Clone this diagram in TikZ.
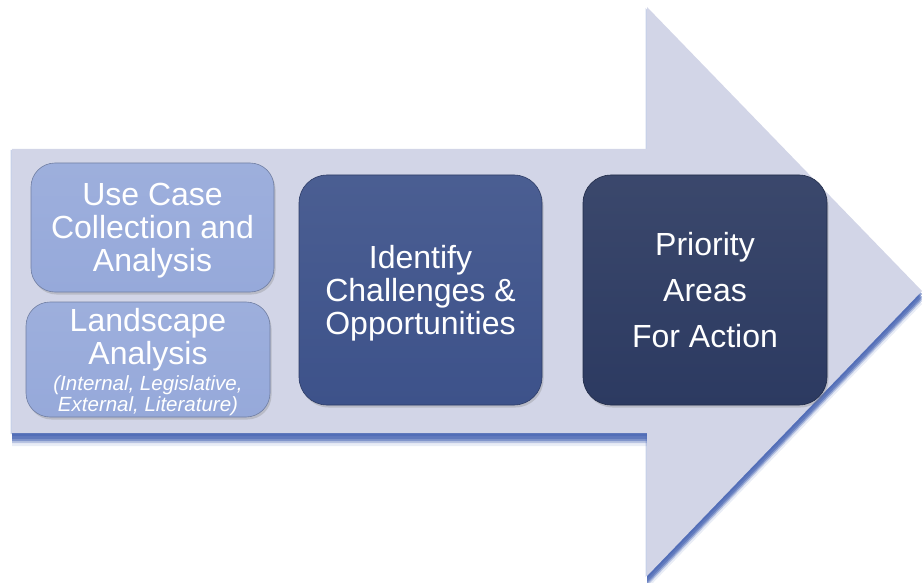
\documentclass[tikz,border=0pt]{standalone}
\usepackage{fontspec}
\setmainfont{Liberation Sans}
\usetikzlibrary{shadows}
\definecolor{arrowfill}{HTML}{D2D5E7}
\definecolor{arrowshadow}{HTML}{4A67B4}
\definecolor{lightbox}{HTML}{96A9DA}
\definecolor{midbox}{HTML}{3D528A}
\definecolor{darkbox}{HTML}{2C3A61}
\begin{document}
\begin{tikzpicture}[x=1pt,y=-1pt,
  stage/.style={rounded corners=28pt, draw=#1!75!black, line width=0.6pt,
    top color=#1!93!white, bottom color=#1, text=white, align=center,
    inner sep=0pt, font=\fontsize{32}{33}\selectfont,
    drop shadow={shadow xshift=1.5pt, shadow yshift=-2.5pt, opacity=0.3}},
  stagetext/.style={text=white, align=center, inner sep=0pt},
]
\useasboundingbox (0,0) rectangle (924,583);
% arrow shadow
\foreach \dx/\dy/\op in {-1.5/1/0.3,0/3/0.6,0/6/0.6,0/8/0.5,0/10/0.3,0/13/0.12}{
  \fill[arrowshadow, opacity=\op, shift={(\dx,\dy)}]
    (12,149) -- (647,149) -- (647,7) -- (922,291) -- (647,576) -- (647,433) -- (12,433) -- cycle;
}
% arrow
\fill[arrowfill] (12,149) -- (647,149) -- (647,7) -- (922,291) -- (647,576) -- (647,433) -- (12,433) -- cycle;
% stages
\node[stage=lightbox, rounded corners=24pt, minimum width=243pt, minimum height=129pt]
  (usecase) at (152.5,227.5) {\rule{0pt}{29pt}Use Case\\Collection and\\Analysis};
\node[stage=lightbox, rounded corners=24pt, minimum width=244pt, minimum height=115pt]
  (landscape) at (148,359.5) {};
\node[stagetext, font=\fontsize{32}{33}\selectfont] (landtitle) at (148,340) {Landscape\\Analysis};
\node[stagetext, font=\fontsize{20.5}{21}\selectfont\itshape] (landsub) at (148,396)
  {(Internal, Legislative,\\External, Literature)};
\node[stage=midbox, minimum width=243pt, minimum height=230pt]
  (identify) at (420.5,290) {\rule{0pt}{29pt}Identify\\Challenges \&\\Opportunities};
\node[stage=darkbox, minimum width=244pt, minimum height=230pt,
  font=\fontsize{32}{46}\selectfont]
  (priority) at (705,290) {Priority\\Areas\\For Action};
\end{tikzpicture}
\end{document}
